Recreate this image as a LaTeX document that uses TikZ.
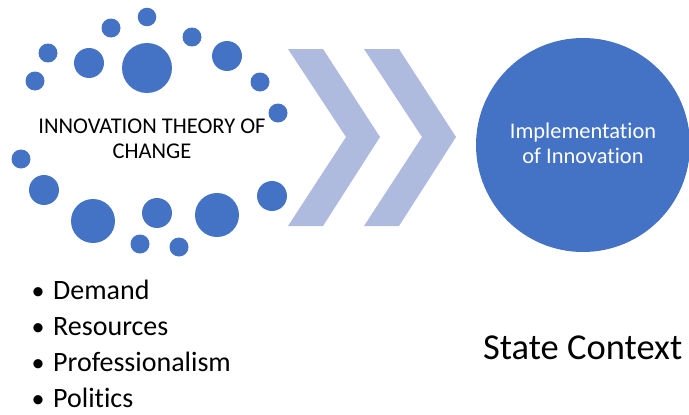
\documentclass[tikz,border=0pt]{standalone}
\usepackage{fontspec}
\setmainfont{Carlito}[Ligatures=NoCommon]
\definecolor{dotblue}{HTML}{4472C4}
\definecolor{chevblue}{HTML}{AFBADF}
\tikzset{
  dot/.style={fill=dotblue},
  chevron/.style={fill=chevblue},
  label/.style={inner sep=0pt, anchor=base west}
}
\begin{document}
\begin{tikzpicture}[x=1pt,y=-1pt]
\useasboundingbox (0,0) rectangle (689,415);

% ring of dots round the theory
\foreach \x/\y/\r in {147/17/9.3, 111/28/9.5, 192/37/9.5, 48/53/9.5, 89/63/15,
  147/68/25, 227/56/15, 35/81/9.5, 260/82/9.5, 278/113/9.5, 21/159/9.5,
  44/190/15, 93/221/22, 157/213/15, 217/215/22, 272/196/15, 140/244/9.5,
  179/247/9.5}
  \fill[dot] (\x,\y) circle (\r pt);
\node[align=center, font=\fontsize{22.5}{25}\selectfont] (theory) at (152,139)
  {INNOVATION THEORY OF\\CHANGE};

% chevrons
\fill[chevron] (288,49) -- (323,49) -- (380,137) -- (323,226) -- (288,226) -- (346,137) -- cycle;
\fill[chevron] (364,49) -- (399,49) -- (456,137) -- (399,226) -- (364,226) -- (422,137) -- cycle;

% implementation
\node[circle, fill=dotblue, minimum size=214pt, inner sep=0pt] (impl) at (583,145) {};
\node[align=center, text=white, font=\fontsize{22.4}{25}\selectfont] (impltext) at (583,143)
  {Implementation\\of Innovation};

% factors
\foreach \t [count=\i] in {Demand,Resources,Professionalism,Politics}{
  \node[inner sep=0pt, anchor=base, font=\fontsize{26}{30}\selectfont] (bullet\i) at (38,263+36*\i) {•};
  \node[label, font=\fontsize{28}{32}\selectfont] (item\i) at (53,263+36*\i) {\t};
}
\node[label, font=\fontsize{36.5}{40}\selectfont] (state) at (483,359) {State Context};

\end{tikzpicture}
\end{document}
